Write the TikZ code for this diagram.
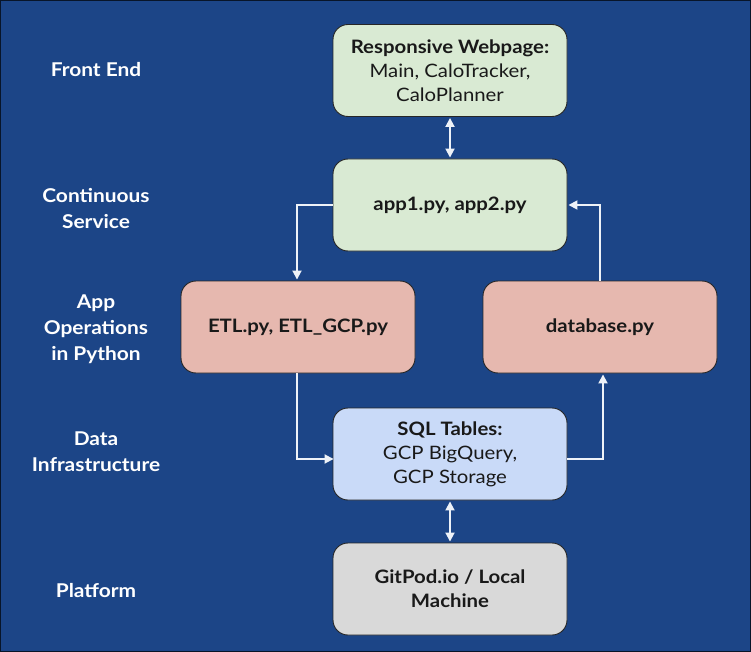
\documentclass[tikz,border=0pt]{standalone}
\usepackage{fontspec}
\setmainfont{Lato}[FakeStretch=1.1]
\usetikzlibrary{arrows.meta}
\definecolor{bg}{HTML}{1C4587}
\definecolor{bgreen}{HTML}{D9EAD3}
\definecolor{bred}{HTML}{E6B8AF}
\definecolor{bblue}{HTML}{C9DAF8}
\definecolor{bgray}{HTML}{D9D9D9}
\definecolor{arr}{HTML}{EEF2F8}
\tikzset{
  boxnode/.style={draw=black!85, line width=0.9pt, rounded corners=15pt, minimum width=234pt, minimum height=92pt, align=center, font=\fontsize{18.5}{24}\selectfont, text=black!90, inner sep=2pt},
  lbl/.style={align=center, text=white, font=\bfseries\fontsize{19}{26}\selectfont},
  conn/.style={draw=arr, line width=1.8pt, -{Triangle[length=9pt,width=9pt]}},
  dconn/.style={draw=arr, line width=1.8pt, {Triangle[length=9pt,width=9pt]}-{Triangle[length=9pt,width=9pt]}}
}
\begin{document}
\begin{tikzpicture}[x=1pt,y=-1pt]
\fill[bg] (0,0) rectangle (751,652);
\draw[black!70!bg, line width=1.2pt] (0.6,0.6) rectangle (750.4,651.4);
\useasboundingbox (0,0) rectangle (751,652);

\node[boxnode, fill=bgreen] (web) at (450,70.5) {\textbf{Responsive Webpage:}\\Main, CaloTracker,\\CaloPlanner};
\node[boxnode, fill=bgreen] (app) at (450,205) {\textbf{app1.py, app2.py}};
\node[boxnode, fill=bred] (etl) at (298,327) {\textbf{ETL.py, ETL\_GCP.py}};
\node[boxnode, fill=bred] (db) at (600,327) {\textbf{database.py}};
\node[boxnode, fill=bblue] (sql) at (450,454) {\textbf{SQL Tables:}\\GCP BigQuery,\\GCP Storage};
\node[boxnode, fill=bgray] (git) at (450,589) {\textbf{GitPod.io / Local}\\\textbf{Machine}};

\node[lbl] (l1) at (96,70) {Front End};
\node[lbl] (l2) at (96,209) {Continuous\\Service};
\node[lbl] (l3) at (96,329) {App\\Operations\\in Python};
\node[lbl] (l4) at (96,452) {Data\\Infrastructure};
\node[lbl] (l5) at (96,591) {Platform};

\draw[dconn] ([yshift=-1pt]web.south) -- ([yshift=1pt]app.north);
\draw[dconn] ([yshift=-1pt]sql.south) -- ([yshift=1pt]git.north);
\draw[conn] (app.west) -| ([xshift=-1pt,yshift=1pt]etl.north);
\draw[conn] ([xshift=-1pt]etl.south) |- ([xshift=1pt,yshift=-5pt]sql.west);
\draw[conn] ([yshift=-5pt]sql.east) -| ([xshift=3pt,yshift=-1pt]db.south);
\draw[conn] (db.north) |- ([xshift=1pt]app.east);
\end{tikzpicture}
\end{document}
